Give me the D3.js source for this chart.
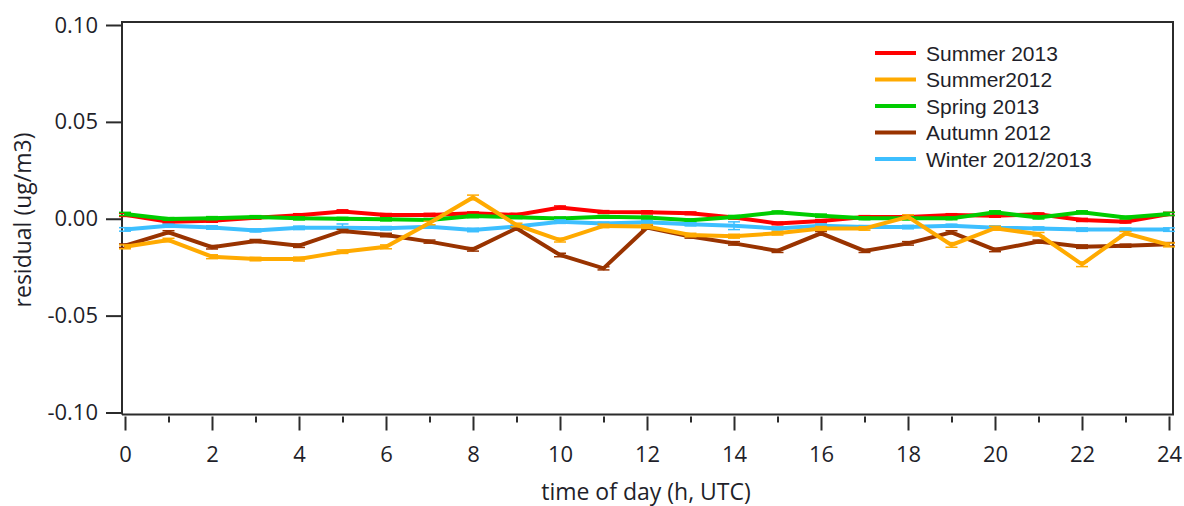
<!DOCTYPE html>
<html>
<head>
<meta charset="utf-8">
<script src="https://cdn.jsdelivr.net/npm/d3@7"></script>
<style>
  html, body { margin: 0; padding: 0; background: #fff; }
  svg { display: block; }
</style>
</head>
<body>
<svg id="chart" width="1184" height="506"></svg>
<script>
// ---------------- data ----------------
const hours = [0,1,2,3,4,5,6,7,8,9,10,11,12,13,14,15,16,17,18,19,20,21,22,23,24];

const seriesNames = ["Summer 2013", "Summer2012", "Spring 2013", "Autumn 2012", "Winter 2012/2013"];
const seriesColors = ["#ff0000", "#ffaa00", "#00cc00", "#993300", "#3dbfff"];

const summer2013 = [0.0020,-0.0015,-0.0010,0.0005,0.0018,0.0038,0.0020,0.0020,0.0028,0.0020,0.0058,0.0035,0.0033,0.0028,0.0006,-0.0024,-0.0012,0.0009,0.0009,0.0019,0.0016,0.0023,-0.0006,-0.0015,0.0025];
const summer2012 = [-0.0145,-0.0110,-0.0196,-0.0208,-0.0208,-0.0170,-0.0145,-0.0022,0.0110,-0.0032,-0.0110,-0.0037,-0.0040,-0.0084,-0.0090,-0.0075,-0.0050,-0.0050,0.0010,-0.0135,-0.0049,-0.0080,-0.0235,-0.0075,-0.0135];
const spring2013 = [0.0025,-0.0001,0.0003,0.0009,0.0002,0.0000,-0.0003,-0.0006,0.0014,0.0008,0.0001,0.0010,0.0006,-0.0008,0.0009,0.0033,0.0016,0.0002,0.0002,0.0002,0.0033,0.0006,0.0033,0.0006,0.0025];
const autumn2012 = [-0.0139,-0.0070,-0.0147,-0.0115,-0.0139,-0.0063,-0.0084,-0.0118,-0.0158,-0.0049,-0.0187,-0.0256,-0.0045,-0.0092,-0.0127,-0.0166,-0.0075,-0.0166,-0.0127,-0.0070,-0.0161,-0.0118,-0.0144,-0.0139,-0.0132];
const winter2012 = [-0.0055,-0.0036,-0.0045,-0.0060,-0.0047,-0.0047,-0.0049,-0.0041,-0.0058,-0.0040,-0.0015,-0.0025,-0.0018,-0.0029,-0.0036,-0.0050,-0.0036,-0.0043,-0.0043,-0.0036,-0.0046,-0.0050,-0.0056,-0.0056,-0.0056];

// small standard errors (mostly hidden under the thick lines)
const summer2013Err = [0.0008,0.0007,0.0008,0.0007,0.0008,0.0008,0.0007,0.0008,0.0007,0.0008,0.0008,0.0007,0.0008,0.0007,0.0008,0.0007,0.0008,0.0007,0.0008,0.0007,0.0008,0.0007,0.0008,0.0007,0.0008];
const summer2012Err = [0.0010,0.0009,0.0010,0.0009,0.0010,0.0009,0.0010,0.0009,0.0012,0.0009,0.0010,0.0009,0.0010,0.0009,0.0010,0.0009,0.0010,0.0009,0.0010,0.0012,0.0010,0.0009,0.0012,0.0009,0.0010];
const spring2013Err = [0.0008,0.0007,0.0008,0.0007,0.0008,0.0007,0.0008,0.0007,0.0008,0.0007,0.0008,0.0007,0.0008,0.0007,0.0008,0.0007,0.0008,0.0007,0.0008,0.0007,0.0008,0.0007,0.0008,0.0007,0.0008];
const autumn2012Err = [0.0009,0.0008,0.0009,0.0008,0.0009,0.0008,0.0009,0.0008,0.0009,0.0008,0.0009,0.0008,0.0009,0.0008,0.0009,0.0008,0.0009,0.0008,0.0009,0.0008,0.0009,0.0008,0.0009,0.0008,0.0009];
const winter2012Err = [0.0009,0.0008,0.0009,0.0008,0.0009,0.0020,0.0009,0.0008,0.0009,0.0008,0.0009,0.0008,0.0009,0.0008,0.0020,0.0008,0.0009,0.0008,0.0009,0.0008,0.0009,0.0008,0.0009,0.0008,0.0009];

const xTickValues = [0,2,4,6,8,10,12,14,16,18,20,22,24];
const xMinorTickValues = [1,3,5,7,9,11,13,15,17,19,21,23];
const yTickValues = [0.10, 0.05, 0.00, -0.05, -0.10];
const xTitle = "time of day (h, UTC)";
const yTitle = "residual (ug/m3)";

// ---------------- layout ----------------
const svg = d3.select("#chart");
const frame = { left: 122, right: 1173, top: 22, bottom: 414.5 };
const axisColor = "#2b2b2b";
const tickFont = "'Open Sans', 'DejaVu Sans', sans-serif";

const x = d3.scaleLinear().domain([0, 24]).range([125, 1169]);
const y = d3.scaleLinear().domain([-0.10, 0.10]).range([412.5, 25]);

const series = [
  { name: seriesNames[0], color: seriesColors[0], values: summer2013, err: summer2013Err },
  { name: seriesNames[1], color: seriesColors[1], values: summer2012, err: summer2012Err },
  { name: seriesNames[2], color: seriesColors[2], values: spring2013, err: spring2013Err },
  { name: seriesNames[3], color: seriesColors[3], values: autumn2012, err: autumn2012Err },
  { name: seriesNames[4], color: seriesColors[4], values: winter2012, err: winter2012Err }
];
const drawOrder = [0, 2, 4, 3, 1];

// frame
svg.append("path")
  .attr("d", `M${frame.left},${frame.bottom} V${frame.top} H${frame.right} V${frame.bottom} H${frame.left}`)
  .attr("fill", "none").attr("stroke", axisColor).attr("stroke-width", 2);

// y axis
const yAxis = d3.axisLeft(y).tickValues(yTickValues).tickSize(16).tickSizeOuter(0).tickPadding(8)
  .tickFormat(d => d3.format(".2f")(d).replace("\u2212", "-"));
const gy = svg.append("g").attr("transform", `translate(${frame.left},0)`).call(yAxis);
gy.select(".domain").remove();
gy.selectAll(".tick line").attr("stroke", axisColor).attr("stroke-width", 2);
gy.selectAll(".tick text").attr("fill", "#1f1f2a").style("font-family", tickFont).style("font-size", "22px");

// x axis (major)
const xAxis = d3.axisBottom(x).tickValues(xTickValues).tickSize(14).tickSizeOuter(0).tickPadding(16)
  .tickFormat(d3.format("d"));
const gx = svg.append("g").attr("transform", `translate(0,${frame.bottom + 2})`).call(xAxis);
gx.select(".domain").remove();
gx.selectAll(".tick line").attr("stroke", axisColor).attr("stroke-width", 2);
gx.selectAll(".tick text").attr("fill", "#1f1f2a").style("font-family", tickFont).style("font-size", "22px");

// x axis (minor)
const xAxisMinor = d3.axisBottom(x).tickValues(xMinorTickValues).tickSize(6).tickSizeOuter(0).tickFormat("");
const gxm = svg.append("g").attr("transform", `translate(0,${frame.bottom + 2})`).call(xAxisMinor);
gxm.select(".domain").remove();
gxm.selectAll(".tick line").attr("stroke", axisColor).attr("stroke-width", 2);

// axis titles
svg.append("text")
  .attr("x", 646).attr("y", 500)
  .attr("text-anchor", "middle")
  .attr("fill", "#1f1f2a")
  .style("font-family", tickFont).style("font-size", "23px")
  .text(xTitle);

svg.append("text")
  .attr("transform", "translate(31,220) rotate(-90)")
  .attr("text-anchor", "middle")
  .attr("fill", "#1f1f2a")
  .style("font-family", tickFont).style("font-size", "23px")
  .text(yTitle);

// series
const line = d3.line().x((d, i) => x(hours[i])).y(d => y(d));
const plot = svg.append("g");
drawOrder.forEach(si => {
  const s = series[si];
  const g = plot.append("g");
  // error bars
  s.values.forEach((v, i) => {
    const cx = x(hours[i]);
    const y1 = y(v + s.err[i]), y2 = y(v - s.err[i]);
    g.append("line").attr("x1", cx).attr("x2", cx).attr("y1", y1).attr("y2", y2)
      .attr("stroke", s.color).attr("stroke-width", 1.5);
    [y1, y2].forEach(yy => {
      g.append("line").attr("x1", cx - 6).attr("x2", cx + 6).attr("y1", yy).attr("y2", yy)
        .attr("stroke", s.color).attr("stroke-width", 1.5);
    });
  });
  g.append("path").datum(s.values)
    .attr("d", line)
    .attr("fill", "none")
    .attr("stroke", s.color)
    .attr("stroke-width", 4)
    .attr("stroke-linejoin", "miter");
});

// legend
const legend = svg.append("g");
series.forEach((s, i) => {
  const cy = 53 + i * 26.5;
  legend.append("line").attr("x1", 875).attr("x2", 916).attr("y1", cy).attr("y2", cy)
    .attr("stroke", s.color).attr("stroke-width", 4);
  legend.append("text").attr("x", 926).attr("y", cy + 7.5)
    .attr("fill", "#1f1f2a")
    .style("font-family", "'Liberation Sans', Arial, sans-serif").style("font-size", "21px")
    .text(s.name);
});
</script>
</body>
</html>
